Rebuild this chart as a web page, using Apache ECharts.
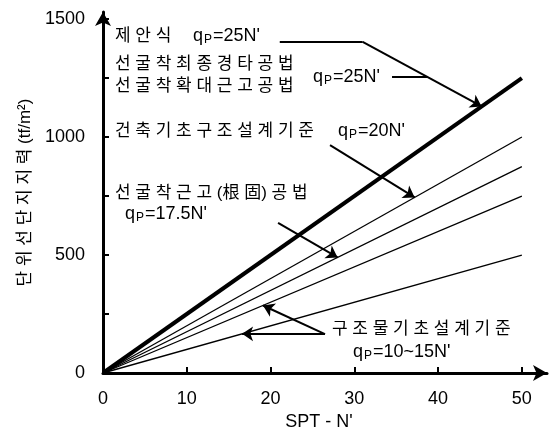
<!DOCTYPE html>
<html>
<head>
<meta charset="utf-8">
<script src="https://cdn.jsdelivr.net/npm/echarts@6.0.0/dist/echarts.min.js"></script>
<style>
html,body{margin:0;padding:0;background:#fff;}
#chart{width:552px;height:439px;}
</style>
</head>
<body>
<div id="chart"></div>
<script>
// ---- data ----
const nValues = [0, 50];            // SPT - N'
const q25  = [0, 1250];             // qp = 25N'
const q20  = [0, 1000];             // qp = 20N'
const q175 = [0, 875];              // qp = 17.5N'
const q15  = [0, 750];              // qp = 15N'
const q10  = [0, 500];              // qp = 10N'
const xTickLabels = [0, 10, 20, 30, 40, 50];
const yTickLabels = [0, 500, 1000, 1500];
const yMinorTicks = [250, 500, 750, 1000, 1250, 1500];

// annotation leaders (data units)
const lead25    = [[21.1, 1403], [31.0, 1403]];
const arrow25   = [[31.0, 1403], [45.2, 1130]];
const link25    = [[34.5, 1255], [38.7, 1255]];
const arrow20   = [[27.1, 966], [37.2, 744]];
const arrow175  = [[20.9, 636], [28.0, 490]];
const arrow15   = [[26.5, 165], [19.1, 286]];
const arrow10   = [[26.5, 165], [16.6, 166]];

const FONT = "'Liberation Sans', 'Noto Sans CJK KR', sans-serif";
const toPairs = (xs, ys) => xs.map((x, i) => [x, ys[i]]);

const chart = echarts.init(document.getElementById('chart'));

function lineSeries(ys, w) {
  return {
    type: 'line', data: toPairs(nValues, ys), showSymbol: false, symbol: 'none',
    lineStyle: {color: '#000', width: w}, silent: true, animation: false, z: 3
  };
}

const rich = {
  a: {fontSize: 18, fontFamily: FONT, color: '#000'},
  b: {fontSize: 12, fontFamily: FONT, color: '#000', padding: [8, 1, 0, 1]}
};
function qText(rest, x, y) {
  return {
    type: 'text', x: x, y: y, z: 10,
    style: {text: '{a|q}{b|P}{a|' + rest + '}', rich: rich, fill: '#000',
            font: '18px ' + FONT, verticalAlign: 'middle', align: 'left'}
  };
}
function kText(t, x, y) {
  return {
    type: 'text', x: x, y: y, z: 10,
    style: {text: t, fill: '#000', font: '17px ' + FONT, verticalAlign: 'middle', align: 'left'}
  };
}

const option = {
  backgroundColor: '#fff',
  animation: false,
  grid: {left: 103, right: 5, top: 12, bottom: 66},
  xAxis: {
    type: 'value', min: 0, max: 53, interval: 10,
    name: "SPT - N'", nameLocation: 'middle', nameGap: 40,
    nameTextStyle: {color: '#000', fontSize: 18, fontFamily: FONT, padding: [0, 12, 0, 0]},
    axisLine: {show: true, onZero: false, symbol: ['none', 'arrow'], symbolSize: [12, 14],
               lineStyle: {color: '#000', width: 3}},
    axisTick: {show: true, inside: true, length: 6, customValues: [10, 20, 30, 40, 50],
               lineStyle: {color: '#000', width: 2}},
    axisLabel: {customValues: xTickLabels, color: '#000', fontSize: 18, fontFamily: FONT, margin: 17,
                formatter: v => String(v)},
    splitLine: {show: false}
  },
  yAxis: {
    type: 'value', min: 0, max: 1530, interval: 250,
    name: '단 위 선 단 지 지 력 (tf/m²)', nameLocation: 'middle', nameGap: 66, nameRotate: 90,
    nameTextStyle: {color: '#000', fontSize: 17, fontFamily: FONT},
    axisLine: {show: true, onZero: false, symbol: ['none', 'arrow'], symbolSize: [12, 14],
               lineStyle: {color: '#000', width: 3}},
    axisTick: {show: true, inside: true, length: 6, customValues: yMinorTicks,
               lineStyle: {color: '#000', width: 2}},
    axisLabel: {customValues: yTickLabels, color: '#000', fontSize: 18, fontFamily: FONT, margin: 18,
                formatter: v => String(v)},
    splitLine: {show: false}
  },
  series: [
    lineSeries(q25, 4),
    lineSeries(q20, 1.3),
    lineSeries(q175, 1.3),
    lineSeries(q15, 1.3),
    lineSeries(q10, 1.3),
    {
      type: 'lines', coordinateSystem: 'cartesian2d', silent: true, z: 4,
      symbol: ['none', 'arrow'], symbolSize: 11,
      lineStyle: {color: '#000', width: 2, opacity: 1},
      data: [
        {coords: arrow25}, {coords: arrow20}, {coords: arrow175},
        {coords: arrow15}, {coords: arrow10}
      ]
    },
    {
      type: 'lines', coordinateSystem: 'cartesian2d', silent: true, z: 4,
      symbol: ['none', 'none'],
      lineStyle: {color: '#000', width: 2, opacity: 1},
      data: [{coords: lead25}, {coords: link25}]
    }
  ],
  graphic: [
    kText('제 안 식', 115, 36),
    qText("=25N'", 193, 36),
    kText('선 굴 착 최 종 경 타 공 법', 115, 64),
    kText('선 굴 착 확 대 근 고 공 법', 115, 86),
    qText("=25N'", 313, 77),
    kText('건 축 기 초 구 조 설 계 기 준', 115, 131),
    qText("=20N'", 338, 131),
    kText('선 굴 착 근 고 (根 固) 공 법', 115, 193),
    qText("=17.5N'", 125, 214),
    kText('구 조 물 기 초 설 계 기 준', 332, 329),
    qText("=10~15N'", 353, 352)
  ]
};
chart.setOption(option);
</script>
</body>
</html>
